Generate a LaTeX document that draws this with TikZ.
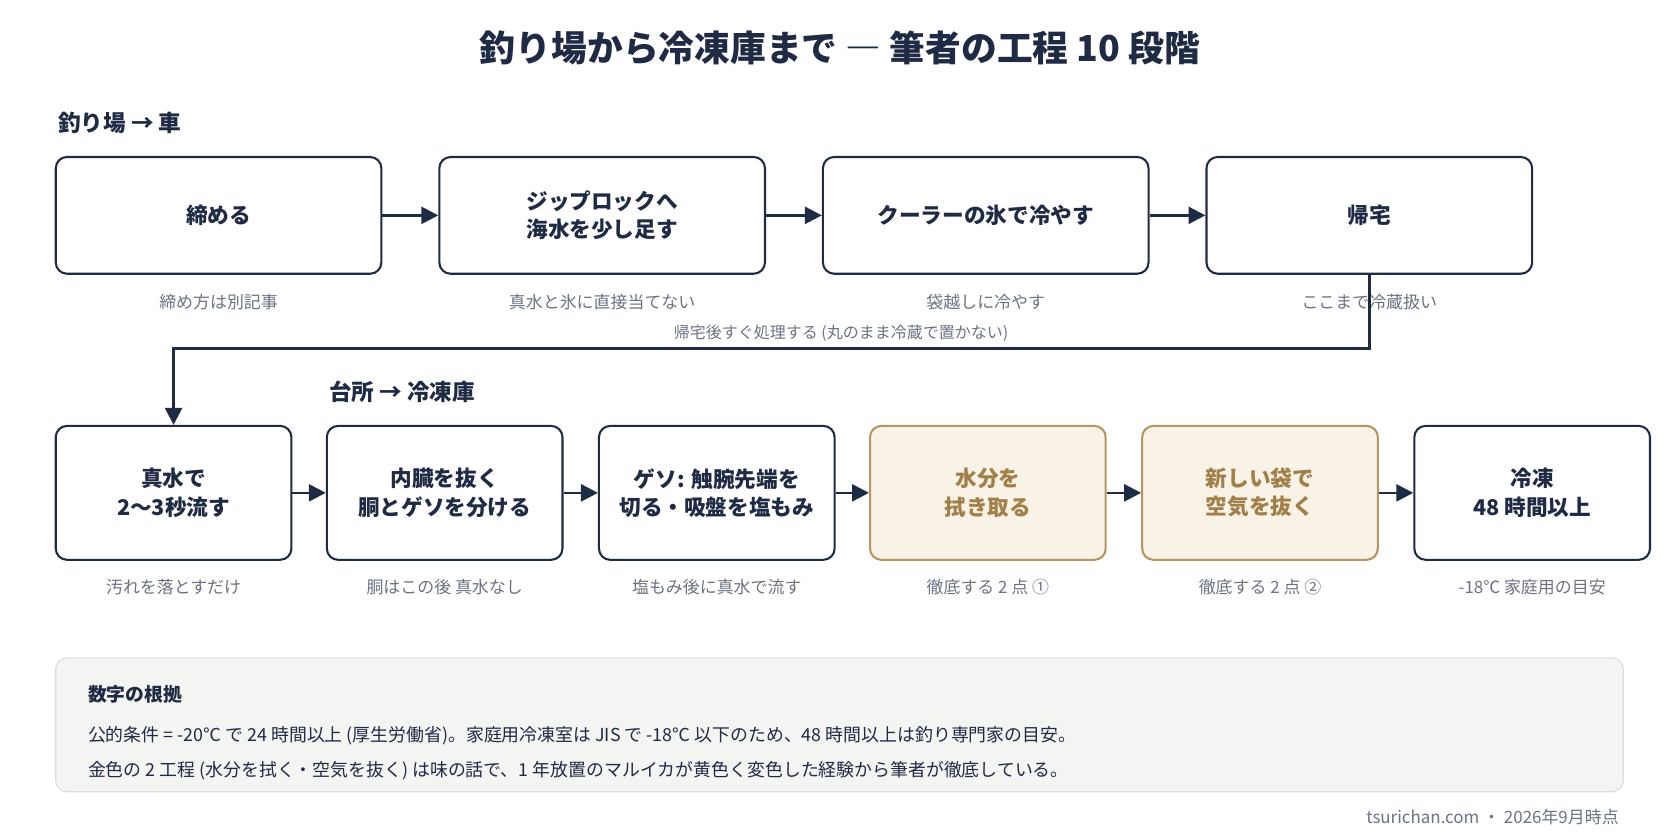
\documentclass[tikz,border=0pt]{standalone}
\usepackage{fontspec}
\setmainfont{Noto Sans CJK JP}
\usetikzlibrary{positioning,arrows.meta}
\definecolor{navy}{HTML}{1F2A44}
\definecolor{capgray}{HTML}{6B7280}
\definecolor{goldline}{HTML}{B89560}
\definecolor{goldfill}{HTML}{F8F3E6}
\definecolor{goldtext}{HTML}{A27E48}
\definecolor{notefill}{HTML}{F4F4F2}
\definecolor{noteline}{HTML}{DDDDDA}
\tikzset{
  stage/.style={draw=navy,line width=1.1pt,rounded corners=6pt,fill=white,
    text=navy,font=\fontsize{11.5}{15}\selectfont\bfseries,align=center},
  wide/.style={stage,minimum width=6.08cm,minimum height=2.18cm},
  narrow/.style={stage,minimum width=4.4cm,minimum height=2.5cm},
  gold/.style={draw=goldline,fill=goldfill,text=goldtext},
  subcap/.style={text=capgray,font=\fontsize{9}{11}\selectfont},
  head/.style={text=navy,font=\fontsize{12}{14}\selectfont\bfseries,anchor=west},
  flow/.style={-{Triangle[length=9pt,width=9pt]},draw=navy,line width=1.4pt}
}
\begin{document}
\begin{tikzpicture}[x=0.02cm,y=-0.02cm]
  \useasboundingbox (0,0) rectangle (1568,784);
  \node[text=navy,font=\fontsize{19}{22}\selectfont\bfseries] (title) at (784,45)
    {釣り場から冷凍庫まで ― 筆者の工程 10 段階};
  % row 1
  \node[head] (h1) at (48,115) {釣り場 → 車};
  \node[wide] (b1) at (204,201) {締める};
  \node[wide] (b2) at (562,201) {ジップロックへ\\海水を少し足す};
  \node[wide] (b3) at (920,201) {クーラーの氷で冷やす};
  \node[wide] (b4) at (1278,201) {帰宅};
  \node[subcap,below=0.24cm of b1] (c1) {締め方は別記事};
  \node[subcap,below=0.24cm of b2] (c2) {真水と氷に直接当てない};
  \node[subcap,below=0.24cm of b3] (c3) {袋越しに冷やす};
  \node[subcap,below=0.24cm of b4] (c4) {ここまで冷蔵扱い};
  \foreach \a/\b in {b1/b2,b2/b3,b3/b4}
    \draw[flow] (\a) -- (\b);
  % row 2
  \node[head] (h2) at (301,366) {台所 → 冷凍庫};
  \node[narrow] (d1) at (162,460) {真水で\\2〜3秒流す};
  \node[narrow] (d2) at (415,460) {内臓を抜く\\胴とゲソを分ける};
  \node[narrow] (d3) at (669,460) {ゲソ: 触腕先端を\\切る・吸盤を塩もみ};
  \node[narrow,gold] (d4) at (922,460) {水分を\\拭き取る};
  \node[narrow,gold] (d5) at (1176,460) {新しい袋で\\空気を抜く};
  \node[narrow] (d6) at (1430,460) {冷凍\\48 時間以上};
  \node[subcap,below=0.22cm of d1] (e1) {汚れを落とすだけ};
  \node[subcap,below=0.22cm of d2] (e2) {胴はこの後 真水なし};
  \node[subcap,below=0.22cm of d3] (e3) {塩もみ後に真水で流す};
  \node[subcap,below=0.22cm of d4] (e4) {徹底する 2 点 ①};
  \node[subcap,below=0.22cm of d5] (e5) {徹底する 2 点 ②};
  \node[subcap,below=0.22cm of d6] (e6) {-18℃ 家庭用の目安};
  \foreach \a/\b in {d1/d2,d2/d3,d3/d4,d4/d5,d5/d6}
    \draw[flow] (\a) -- (\b);
  % turn
  \coordinate (t1) at (1278,325);
  \coordinate (t2) at (162,325);
  \draw[flow] (b4.south) -- (t1) -- (t2) -- (d1.north);
  \node[subcap,font=\fontsize{8.5}{10}\selectfont] (tl) at (785,311)
    {帰宅後すぐ処理する (丸のまま冷蔵で置かない)};
  % note
  \draw[draw=noteline,fill=notefill,rounded corners=6pt,line width=0.6pt]
    (52,614) rectangle (1515,739);
  \node[text=navy,font=\fontsize{10}{12}\selectfont\bfseries,anchor=west] (n0) at (76,648) {数字の根拠};
  \node[text=navy,font=\fontsize{9.5}{12}\selectfont,anchor=west] (n1) at (76,687)
    {公的条件 = -20℃ で 24 時間以上 (厚生労働省)。家庭用冷凍室は JIS で -18℃ 以下のため、48 時間以上は釣り専門家の目安。};
  \node[text=navy,font=\fontsize{9.5}{12}\selectfont,anchor=west] (n2) at (76,719)
    {金色の 2 工程 (水分を拭く・空気を抜く) は味の話で、1 年放置のマルイカが黄色く変色した経験から筆者が徹底している。};
  \node[subcap,anchor=east] (foot) at (1517,763) {tsurichan.com ・ 2026年9月時点};
\end{tikzpicture}
\end{document}
